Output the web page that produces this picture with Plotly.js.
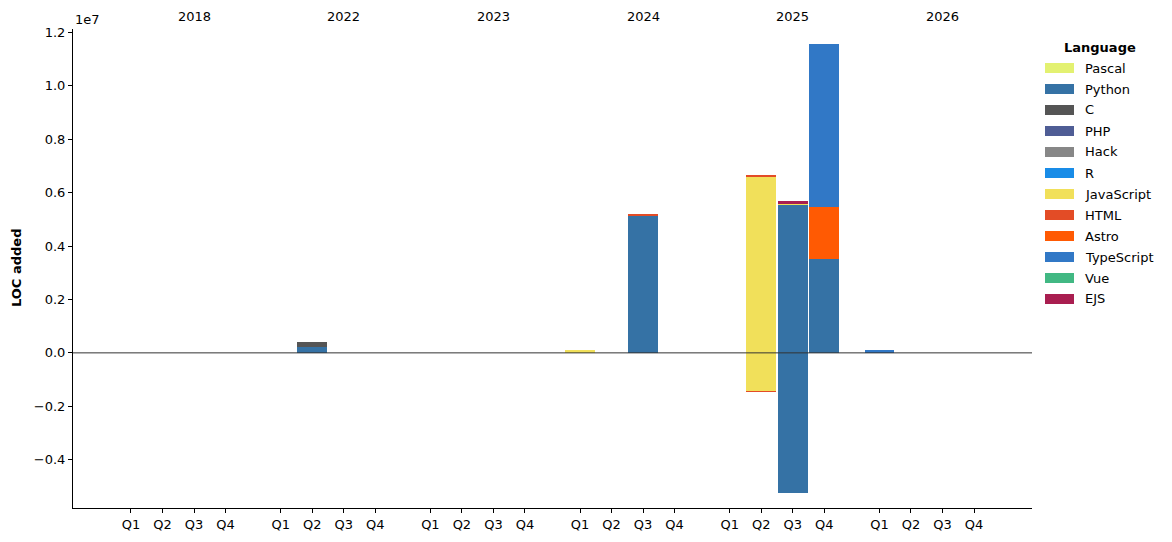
<!DOCTYPE html>
<html>
<head>
<meta charset="utf-8">
<script src="https://cdn.plot.ly/plotly-3.0.1.min.js"></script>
<style>html,body{margin:0;padding:0;background:#fff;}#chart{width:1172px;height:542px;}</style>
</head>
<body>
<div id="chart"></div>
<script>
// ---- data ----
const years = ['2018', '2022', '2023', '2024', '2025', '2026'];
const quarters = ['Q1', 'Q2', 'Q3', 'Q4'];
const languages = ['Pascal', 'Python', 'C', 'PHP', 'Hack', 'R', 'JavaScript', 'HTML', 'Astro', 'TypeScript', 'Vue', 'EJS'];
const colors = ['#e3f171', '#3572a5', '#555555', '#4f5d95', '#878787', '#198ce7', '#f1e05a', '#e34c26', '#ff5a03', '#3178c6', '#41b883', '#a91e50'];

// 24 values per series: 2018 Q1..Q4, 2022 Q1..Q4, 2023, 2024, 2025, 2026
const pascalAdded     = [0,0,0,0, 0,0,0,0, 0,0,0,0, 0,0,0,0, 0,0,0,0, 0,0,0,0];
const pythonAdded     = [0,0,0,0, 0,230000,0,0, 0,0,0,0, 0,0,5130000,0, 0,0,5540000,3520000, 0,0,0,0];
const cAdded          = [0,0,0,0, 0,170000,0,0, 0,0,0,0, 0,0,0,0, 0,0,0,0, 0,0,0,0];
const phpAdded        = [0,0,0,0, 0,0,0,0, 0,0,0,0, 0,0,0,0, 0,0,0,0, 0,0,0,0];
const hackAdded       = [0,0,0,0, 0,0,0,0, 0,0,0,0, 0,0,0,0, 0,0,0,0, 0,0,0,0];
const rAdded          = [0,0,0,0, 0,0,0,0, 0,0,0,0, 0,0,0,0, 0,0,0,0, 0,0,0,0];
const javascriptAdded = [0,0,0,0, 0,0,0,0, 0,0,0,0, 90000,0,0,0, 0,6590000,40000,0, 0,0,0,0];
const htmlAdded       = [0,0,0,0, 0,0,0,0, 0,0,0,0, 0,0,60000,0, 0,70000,0,0, 0,0,0,0];
const astroAdded      = [0,0,0,0, 0,0,0,0, 0,0,0,0, 0,0,0,0, 0,0,0,1950000, 0,0,0,0];
const typescriptAdded = [0,0,0,0, 0,0,0,0, 0,0,0,0, 0,0,0,0, 0,0,0,6080000, 120000,0,0,0];
const vueAdded        = [0,0,0,0, 0,0,0,0, 0,0,0,0, 0,0,0,0, 0,0,0,0, 0,0,0,0];
const ejsAdded        = [0,0,0,0, 0,0,0,0, 0,0,0,0, 0,0,0,0, 0,0,110000,0, 0,0,0,0];

const pythonRemoved     = [0,0,0,0, 0,0,0,0, 0,0,0,0, 0,0,0,0, 0,0,-5240000,0, 0,0,0,0];
const javascriptRemoved = [0,0,0,0, 0,0,0,0, 0,0,0,0, 0,0,0,0, 0,-1410000,0,0, 0,0,0,0];
const htmlRemoved       = [0,0,0,0, 0,0,0,0, 0,0,0,0, 0,0,0,0, 0,-40000,0,0, 0,0,0,0];

const yTickVals = [-4000000, -2000000, 0, 2000000, 4000000, 6000000, 8000000, 10000000, 12000000];
const yTickText = ['\u22120.4', '\u22120.2', '0.0', '0.2', '0.4', '0.6', '0.8', '1.0', '1.2'];

const added = [pascalAdded, pythonAdded, cAdded, phpAdded, hackAdded, rAdded, javascriptAdded, htmlAdded, astroAdded, typescriptAdded, vueAdded, ejsAdded];
const removed = {Python: pythonRemoved, JavaScript: javascriptRemoved, HTML: htmlRemoved};

// ---- layout geometry ----
const groupStride = 4.75;
const xs = [], xTickText = [];
years.forEach((y, g) => quarters.forEach((q, i) => { xs.push(g * groupStride + i); xTickText.push(q); }));

const W = 1172, H = 542, L = 73, R = 1032, T = 29, B = 508;
const px = v => (v - L) / (R - L);
const py = v => (B - v) / (B - T);

const traces = [];
languages.forEach((lang, k) => {
  traces.push({type: 'bar', name: lang, x: xs, y: added[k], width: 0.95,
    marker: {color: colors[k], line: {width: 0}}, showlegend: false, hoverinfo: 'x+y+name'});
});
languages.forEach((lang, k) => {
  if (removed[lang]) traces.push({type: 'bar', name: lang, x: xs, y: removed[lang], width: 0.95,
    marker: {color: colors[k], line: {width: 0}}, showlegend: false, hoverinfo: 'x+y+name'});
});

const shapes = [{type: 'line', xref: 'paper', yref: 'y', x0: 0, x1: 1, y0: 0, y1: 0,
  line: {color: '#333333', width: 1}, layer: 'above'}];
const annotations = [];
years.forEach((y, g) => annotations.push({text: y, x: g * groupStride + 2, xref: 'x', y: py(17), yref: 'paper',
  showarrow: false, xanchor: 'center', yanchor: 'middle', font: {size: 13}}));
annotations.push({text: '1e7', x: 0, xref: 'paper', y: py(20), yref: 'paper', showarrow: false, xanchor: 'left', yanchor: 'middle', font: {size: 13}});
annotations.push({text: '<b>LOC added</b>', x: px(16), xref: 'paper', y: py(268), yref: 'paper', showarrow: false,
  textangle: -90, xanchor: 'center', yanchor: 'middle', font: {size: 13}});
// legend
annotations.push({text: '<b>Language</b>', x: px(1100), xref: 'paper', y: py(47), yref: 'paper', showarrow: false,
  xanchor: 'center', yanchor: 'middle', font: {size: 13}});
languages.forEach((lang, k) => {
  const cy = 68 + k * 21;
  shapes.push({type: 'rect', xref: 'paper', yref: 'paper', x0: px(1045), x1: px(1074), y0: py(cy - 5), y1: py(cy + 5),
    fillcolor: colors[k], line: {width: 0}, layer: 'above'});
  annotations.push({text: lang, x: px(1083), xref: 'paper', y: py(cy), yref: 'paper', showarrow: false,
    xanchor: 'left', yanchor: 'middle', font: {size: 13}});
});

const layout = {
  width: W, height: H,
  margin: {l: L, r: W - R, t: T, b: H - B, pad: 0},
  paper_bgcolor: '#ffffff', plot_bgcolor: '#ffffff',
  font: {family: 'DejaVu Sans, sans-serif', size: 13, color: '#000000'},
  barmode: 'relative', bargap: 0,
  showlegend: false,
  xaxis: {range: [-1.84, 5 * groupStride + 3 + 1.84], tickmode: 'array', tickvals: xs, ticktext: xTickText,
    showline: true, linecolor: '#000000', linewidth: 1, ticks: 'outside', ticklen: 4, tickcolor: '#000000',
    showgrid: false, zeroline: false, fixedrange: true},
  yaxis: {range: [-5810000, 12130000], tickmode: 'array', tickvals: yTickVals, ticktext: yTickText,
    showline: true, linecolor: '#000000', linewidth: 1, ticks: 'outside', ticklen: 4, tickcolor: '#000000',
    showgrid: false, zeroline: false, fixedrange: true},
  shapes: shapes, annotations: annotations
};

Plotly.newPlot('chart', traces, layout, {displayModeBar: false, staticPlot: true});
</script>
</body>
</html>
